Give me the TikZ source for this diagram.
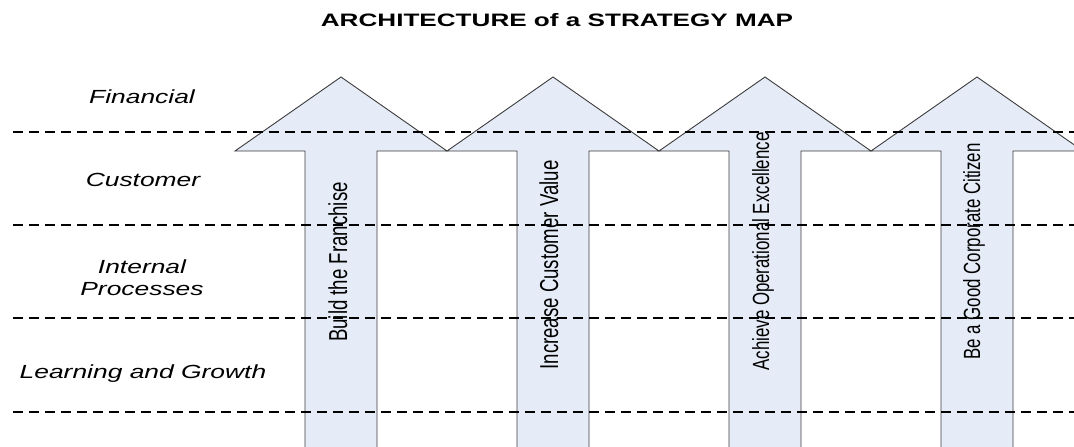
\documentclass[tikz,border=0pt]{standalone}
\usepackage{fontspec}
\setmainfont{Liberation Sans}
\newfontfamily\lblfont[FakeStretch=1.39]{Liberation Sans}
\newfontfamily\ttlfont[FakeStretch=1.45]{Liberation Sans}
\newfontfamily\vfont[FakeStretch=0.72]{Liberation Sans}
\definecolor{arrowfill}{RGB}{230,236,247}
\definecolor{arrowline}{RGB}{60,60,60}
\tikzset{
  layerlabel/.style={inner sep=0pt, font=\lblfont\itshape\fontsize{19}{22}\selectfont},
  titlelabel/.style={inner sep=0pt, font=\ttlfont\bfseries\fontsize{18}{21}\selectfont},
  arrowlabel/.style={inner sep=0pt, rotate=90, anchor=base, font=\vfont\fontsize{25.9}{28}\selectfont},
  smallarrowlabel/.style={arrowlabel, font=\vfont\fontsize{23.4}{26}\selectfont},
  divider/.style={line width=1.6pt, dash pattern=on 10pt off 6pt},
  bigarrow/.style={fill=arrowfill, draw=none},
  arrowedge/.style={draw=arrowline, line width=0.9pt, line join=miter},
}
\newcommand{\stratarrow}[1]{%
  \fill[bigarrow] (#1-36,449) -- (#1-36,151) -- (#1-106,151) -- (#1,77) -- (#1+106,151) -- (#1+36,151) -- (#1+36,449) -- cycle;
  \draw[arrowedge] (#1-36,449) -- (#1-36,151) -- (#1-106,151) -- (#1,77) -- (#1+106,151) -- (#1+36,151) -- (#1+36,449);
}
\begin{document}
\begin{tikzpicture}[x=1pt,y=-1pt]
\useasboundingbox (0,0) rectangle (1074,447);
\begin{scope}
\clip (0,0) rectangle (1074,447);
\stratarrow{341}
\stratarrow{553}
\stratarrow{765}
\stratarrow{977}
\foreach \yy in {132,225,318,412}{
  \draw[divider] (13,\yy) -- (1074,\yy);
}
\end{scope}
\node[titlelabel, anchor=base] (title) at (557,27) {ARCHITECTURE of a STRATEGY MAP};
\node[layerlabel, anchor=base] (fin) at (142,103) {Financial};
\node[layerlabel, anchor=base] (cus) at (143,186) {Customer};
\node[layerlabel, anchor=base] (int) at (142,273) {Internal};
\node[layerlabel, anchor=base] (pro) at (142,295) {Processes};
\node[layerlabel, anchor=base] (lg) at (143,378) {Learning and Growth};
\node[arrowlabel] (a1) at (347,262) {Build the Franchise};
\node[arrowlabel] (a2) at (558,265) {Increase Customer Value};
\node[smallarrowlabel] (a3) at (769,251.5) {Achieve Operational Excellence};
\node[smallarrowlabel] (a4) at (980,251.5) {Be a Good Corporate Citizen};
\end{tikzpicture}
\end{document}
